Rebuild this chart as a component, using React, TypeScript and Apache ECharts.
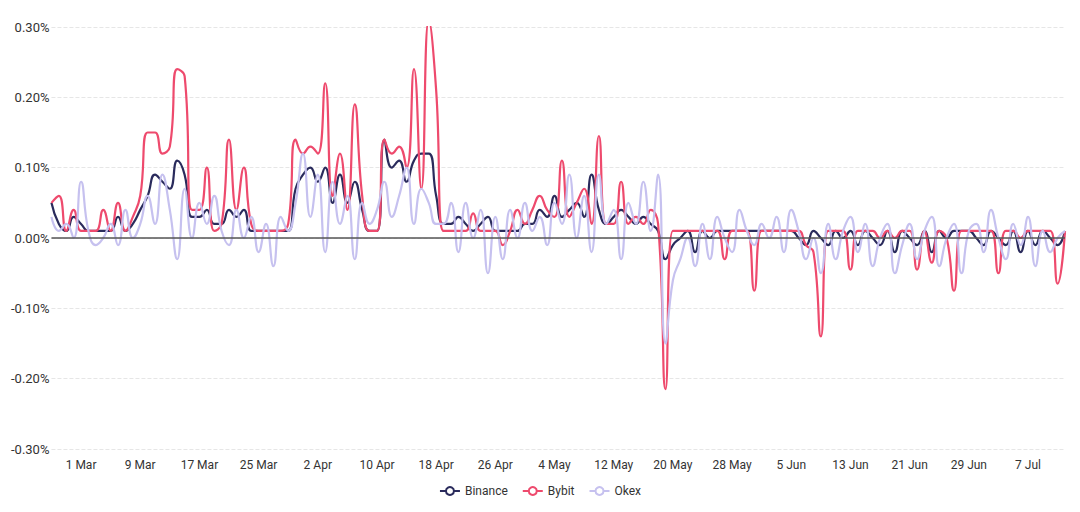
import * as echarts from "echarts";
import { useEffect, useRef } from "react";

// daily funding rates (%), 25 Feb -> 12 Jul
const MONTHS = ["Jan", "Feb", "Mar", "Apr", "May", "Jun", "Jul", "Aug", "Sep", "Oct", "Nov", "Dec"];
const dates: string[] = [];
for (let d = new Date(2021, 1, 25); d <= new Date(2021, 6, 12); d.setDate(d.getDate() + 1)) {
  dates.push(d.getDate() + " " + MONTHS[d.getMonth()]);
}

const binance = [
  0.05, 0.02, 0.01, 0.03, 0.02, 0.01, 0.01, 0.01, 0.01, 0.03,
  0.01, 0.02, 0.04, 0.06, 0.09, 0.08, 0.07, 0.11, 0.09, 0.03,
  0.03, 0.04, 0.02, 0.02, 0.04, 0.03, 0.04, 0.01, 0.01, 0.01,
  0.01, 0.01, 0.01, 0.07, 0.09, 0.1, 0.08, 0.1, 0.05, 0.09,
  0.05, 0.08, 0.04, 0.01, 0.01, 0.14, 0.1, 0.11, 0.08, 0.11,
  0.12, 0.12, 0.06, 0.02, 0.02, 0.03, 0.02, 0.01, 0.02, 0.03,
  0.01, 0.01, 0.01, 0.01, 0.02, 0.02, 0.04, 0.03, 0.06, 0.03,
  0.04, 0.05, 0.03, 0.09, 0.04, 0.02, 0.03, 0.04, 0.03, 0.02,
  0.03, 0.02, 0.01, -0.03, -0.01, 0.0, 0.01, -0.02, 0.01, 0.0,
  0.01, 0.01, 0.01, 0.01, 0.01, 0.01, 0.01, 0.01, 0.01, 0.01,
  0.01, 0.0, -0.01, 0.01, 0.0, -0.01, 0.01, 0.0, 0.01, -0.01,
  0.01, 0.0, -0.01, 0.01, -0.02, 0.01, 0.0, -0.01, 0.01, -0.02,
  0.01, 0.0, 0.01, 0.01, 0.01, 0.0, -0.01, 0.01, 0.0, -0.01,
  0.01, -0.02, 0.01, -0.01, 0.01, 0.0, -0.01, 0.01,
];

const bybit = [
  0.05, 0.06, 0.01, 0.04, 0.01, 0.01, 0.01, 0.04, 0.01, 0.05,
  0.01, 0.03, 0.06, 0.15, 0.15, 0.12, 0.13, 0.24, 0.23, 0.04,
  0.04, 0.1, 0.01, 0.02, 0.14, 0.04, 0.1, 0.02, 0.01, 0.01,
  0.01, 0.01, 0.02, 0.14, 0.12, 0.13, 0.12, 0.22, 0.06, 0.12,
  0.04, 0.19, 0.06, 0.01, 0.01, 0.14, 0.12, 0.13, 0.1, 0.24,
  0.07, 0.31, 0.21, 0.01, 0.01, 0.01, 0.01, 0.035, 0.01, 0.01,
  0.01, -0.01, 0.01, 0.04, 0.02, 0.04, 0.06, 0.04, 0.03, 0.11,
  0.03, 0.05, 0.07, 0.02, 0.145, 0.02, 0.02, 0.08, 0.02, 0.03,
  0.02, 0.04, 0.02, -0.215, 0.01, 0.01, 0.01, 0.01, 0.01, 0.01,
  0.01, -0.03, 0.01, 0.01, 0.01, -0.075, 0.01, 0.01, 0.01, 0.01,
  0.01, 0.01, -0.01, -0.02, -0.14, 0.01, 0.01, 0.01, -0.045, 0.01,
  0.01, 0.01, 0.0, 0.01, 0.0, 0.01, 0.01, -0.045, 0.01, -0.035,
  0.01, 0.0, -0.075, 0.01, 0.01, 0.01, 0.01, 0.01, -0.05, 0.01,
  0.01, 0.0, 0.01, 0.01, 0.01, 0.01, -0.065, 0.01,
];

const okex = [
  0.03, 0.01, 0.02, 0.0, 0.08, 0.01, -0.01, 0.0, 0.02, -0.01,
  0.04, 0.0, 0.02, 0.06, 0.02, 0.09, 0.04, -0.03, 0.07, 0.0,
  0.05, 0.02, 0.06, 0.01, -0.01, 0.04, 0.0, 0.03, -0.02, 0.02,
  -0.04, 0.03, 0.01, 0.05, 0.12, 0.03, 0.09, -0.02, 0.08, 0.02,
  0.06, -0.03, 0.05, 0.02, 0.04, 0.08, 0.03, 0.06, 0.1, 0.02,
  0.07, 0.05, 0.02, 0.02, 0.05, -0.02, 0.05, 0.0, 0.04, -0.05,
  0.03, -0.03, 0.04, 0.0, 0.05, 0.01, 0.03, -0.01, 0.05, 0.02,
  0.09, 0.0, 0.06, -0.02, 0.09, 0.02, 0.04, -0.03, 0.05, 0.02,
  0.08, 0.01, 0.09, -0.15, -0.06, -0.03, 0.0, -0.04, 0.02, -0.03,
  0.03, 0.0, -0.02, 0.04, 0.01, -0.01, 0.02, 0.0, 0.03, -0.02,
  0.04, 0.01, -0.03, 0.0, -0.05, 0.02, -0.03, 0.01, 0.03, -0.02,
  0.02, -0.04, 0.0, 0.02, -0.05, -0.01, 0.02, -0.03, 0.01, 0.03,
  -0.04, 0.0, 0.02, -0.05, 0.01, 0.02, -0.02, 0.04, 0.0, -0.03,
  0.02, -0.01, 0.03, -0.04, 0.01, -0.02, 0.0, 0.01,
];

const line = (name: string, data: number[], color: string, extra = {}) => ({
  name,
  type: "line",
  data,
  smooth: true,
  showSymbol: false,
  symbol: "emptyCircle",
  symbolSize: 6,
  lineStyle: { width: 2.2, color },
  itemStyle: { color },
  ...extra,
});

export default function App() {
  const ref = useRef<HTMLDivElement | null>(null);

  useEffect(() => {
    if (!ref.current) return;
    const chart = echarts.init(ref.current, null, { renderer: "svg" });
    chart.setOption({
      animation: false,
      textStyle: { fontFamily: "Roboto, sans-serif" },
      grid: { left: 42, right: 7, top: 19, bottom: 55 },
      legend: {
        bottom: 2,
        itemGap: 14,
        itemWidth: 20,
        itemHeight: 10,
        textStyle: { fontSize: 12, color: "#333" },
        data: ["Binance", "Bybit", "Okex"],
      },
      xAxis: {
        type: "category",
        data: dates,
        boundaryGap: false,
        axisLine: { show: false },
        axisTick: { show: false },
        axisLabel: {
          interval: (i: number) => (i - 4) % 8 === 0,
          color: "#333",
          fontSize: 12,
          margin: 10,
        },
      },
      yAxis: {
        type: "value",
        min: -0.3,
        max: 0.3,
        interval: 0.1,
        axisLabel: {
          color: "#333",
          fontSize: 13,
          margin: 2,
          formatter: (v: number) => v.toFixed(2) + "%",
        },
        splitLine: { lineStyle: { type: "dashed", color: "#e6e6e6" } },
      },
      series: [
        line("Binance", binance, "#2a2b5c", {
          markLine: {
            silent: true,
            symbol: "none",
            label: { show: false },
            lineStyle: { color: "#555", type: "solid", width: 1.5 },
            data: [{ yAxis: 0 }],
          },
        }),
        line("Bybit", bybit, "#ee4a6d"),
        line("Okex", okex, "#c6c1ef"),
      ],
    });
    return () => chart.dispose();
  }, []);

  return <div ref={ref} style={{ width: 1064, height: 496 }} />;
}
